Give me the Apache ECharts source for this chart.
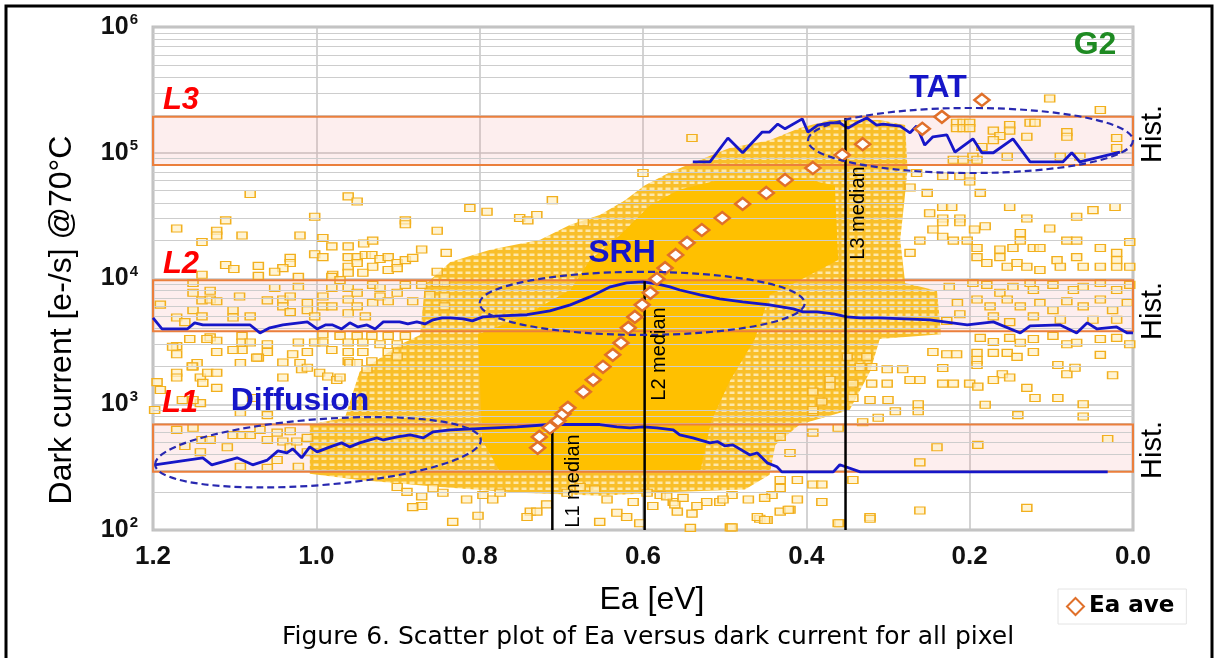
<!DOCTYPE html>
<html>
<head>
<meta charset="utf-8">
<script src="https://cdn.jsdelivr.net/npm/echarts@6.0.0/dist/echarts.min.js"></script>
<style>
  html, body { margin: 0; padding: 0; background: #fff; }
  #chart { width: 1215px; height: 658px; }
</style>
</head>
<body>
<div id="chart"></div>
<script>
// ---- data (Ea in eV, dark current in e-/s) ----
const minorSteps = [2, 3, 4, 5, 6, 7, 8, 9]
const decades = [1e2, 1e3, 1e4, 1e5]

const bandNames = ['L1', 'L2', 'L3']
const bandLow = [290, 3800, 80000]
const bandHigh = [690, 9700, 193000]

const eaAveX = [0.729, 0.727, 0.714, 0.704, 0.698, 0.692, 0.673, 0.661, 0.649, 0.637, 0.627, 0.618, 0.610, 0.601, 0.591,
  0.583, 0.573, 0.560, 0.546, 0.528, 0.503, 0.478, 0.449, 0.426, 0.392, 0.356, 0.331, 0.258, 0.234, 0.185]
const eaAveY = [450, 550, 650, 738, 839, 936, 1255, 1563, 1984, 2470, 3076, 4050, 4950, 6170, 7690,
  9930, 12100, 15400, 19200, 24300, 30300, 39200, 47900, 60800, 75700, 96000, 117000, 155000, 193000, 263000]

const histL1 = [[1.198, 330], [1.139, 375], [1.128, 330], [1.097, 375], [1.078, 330], [1.060, 360], [1.047, 426], [1.036, 410],
  [1.029, 442], [1.018, 375], [1.008, 458], [0.999, 418], [0.983, 458], [0.969, 493], [0.959, 458], [0.947, 493], [0.926, 540],
  [0.918, 520], [0.901, 551], [0.885, 570], [0.869, 540], [0.857, 604], [0.836, 625], [0.754, 661], [0.714, 690], [0.653, 690],
  [0.632, 661], [0.616, 650], [0.600, 661], [0.583, 650], [0.563, 625], [0.555, 570], [0.539, 540], [0.518, 493], [0.509, 505],
  [0.500, 467], [0.490, 475], [0.469, 395], [0.460, 410], [0.448, 342], [0.436, 318], [0.430, 290], [0.367, 290], [0.359, 330],
  [0.334, 290], [0.031, 290]]

const histL2 = [[1.200, 4860], [1.189, 3970], [1.158, 3970], [1.149, 4440], [1.139, 4270], [1.081, 4270], [1.069, 3690],
  [1.057, 4050], [1.041, 4270], [1.011, 4520], [0.999, 3970], [0.989, 4270], [0.980, 4270], [0.969, 3970], [0.959, 4440],
  [0.949, 4120], [0.938, 4270], [0.928, 3970], [0.918, 4520], [0.898, 4520], [0.888, 4350], [0.877, 4520], [0.867, 4350],
  [0.857, 4690], [0.846, 4860], [0.836, 4860], [0.820, 4780], [0.809, 4600], [0.796, 4950], [0.775, 5050], [0.742, 5150],
  [0.714, 5520], [0.689, 6170], [0.665, 7140], [0.640, 8580], [0.620, 9230], [0.600, 9400], [0.583, 9060], [0.567, 8580],
  [0.555, 8100], [0.530, 7400], [0.506, 6880], [0.478, 6520], [0.445, 6170], [0.416, 5730], [0.404, 5420], [0.387, 5420],
  [0.367, 5230], [0.350, 4950], [0.334, 4860], [0.310, 4860], [0.249, 4690], [0.203, 4270], [0.171, 4520], [0.138, 3690],
  [0.126, 4200], [0.089, 4270], [0.069, 3690], [0.056, 4440], [0.044, 3970], [0.020, 4120], [0.007, 3690], [0.000, 3690]]

const histL3 = [[0.539, 84500], [0.518, 84500], [0.496, 131000], [0.478, 100000], [0.454, 146000], [0.445, 146000],
  [0.435, 169000], [0.426, 155000], [0.405, 186000], [0.398, 146000], [0.386, 166000], [0.371, 173000], [0.359, 173000],
  [0.349, 157000], [0.338, 173000], [0.326, 189000], [0.314, 166000], [0.306, 169000], [0.285, 163000], [0.273, 144000],
  [0.265, 163000], [0.255, 115000], [0.245, 134000], [0.228, 139000], [0.218, 101000], [0.196, 129000], [0.185, 100000],
  [0.171, 100000], [0.147, 129000], [0.126, 84500], [0.086, 84500], [0.075, 100000], [0.065, 84500], [0.016, 101000]]

const medianNames = ['L1 median', 'L2 median', 'L3 median']
const medianEa = [0.711, 0.598, 0.352]
const medianTop = [670, 9500, 189000]

// ellipses: [Ea left, Ea right, current low, current high]
const ellipseNames = ['Diffusion', 'SRH', 'TAT']
const ellipseBox = [[1.198, 0.798, 227, 759], [0.800, 0.402, 3560, 11300], [0.398, 0.0, 69000, 227000]]

// outline of the region where the pixel squares merge
const denseOutline = [[1.008, 280], [1.008, 690], [0.965, 780], [0.947, 1810], [0.898, 2970], [0.873, 3560], [0.867, 8900],
  [0.836, 13550], [0.787, 16900], [0.726, 20300], [0.689, 26700], [0.653, 32000], [0.622, 42000], [0.598, 55000],
  [0.567, 70000], [0.530, 88000], [0.494, 109000], [0.445, 126000], [0.408, 157000], [0.371, 182000], [0.310, 182000],
  [0.279, 166000], [0.276, 73000], [0.285, 20300], [0.279, 9200], [0.240, 8000], [0.235, 3600], [0.310, 3300],
  [0.322, 1810], [0.347, 900], [0.408, 690], [0.438, 475], [0.445, 275], [0.475, 210], [0.555, 201], [0.653, 187],
  [0.751, 198], [0.849, 220], [0.947, 250]]
// outline of the saturated core
const coreOutline = [[0.775, 290], [0.797, 520], [0.802, 3600], [0.751, 4860], [0.689, 8100], [0.665, 14000],
  [0.628, 22200], [0.591, 38500], [0.555, 51000], [0.506, 61000], [0.408, 63000], [0.365, 55000], [0.361, 14000],
  [0.408, 9700], [0.445, 7400], [0.463, 3300], [0.493, 1560], [0.516, 750], [0.530, 290]]

// individual pixels outside the merged region
const pixUpperLeft = [[1.081, 4.7e4], [0.961, 4.5e4], [0.950, 4.1e4], [1.111, 2.9e4], [1.002, 3.1e4], [0.891, 2.9e4],
  [0.891, 2.7e4], [1.171, 2.5e4], [1.122, 2.4e4], [1.122, 2.2e4], [1.091, 2.2e4], [1.020, 2.2e4], [0.852, 2.4e4],
  [1.140, 1.95e4], [0.992, 2.1e4], [0.981, 1.8e4], [0.961, 1.8e4], [0.942, 1.9e4], [0.931, 2.0e4], [0.871, 1.7e4],
  [0.841, 1.6e4], [1.002, 1.56e4], [0.992, 1.48e4], [1.032, 1.46e4], [1.032, 1.33e4], [1.041, 1.21e4], [1.051, 1.13e4],
  [1.071, 1.26e4], [1.071, 1.05e4], [1.111, 1.28e4], [1.101, 1.19e4], [1.140, 1.07e4], [0.961, 1.48e4], [0.950, 1.48e4],
  [0.961, 1.24e4], [0.950, 1.33e4], [0.940, 1.54e4], [0.932, 1.54e4], [0.922, 1.43e4], [0.912, 1.48e4], [0.901, 1.33e4],
  [0.891, 1.4e4], [0.882, 1.46e4], [0.931, 1.24e4], [0.912, 1.17e4], [0.901, 1.21e4], [0.980, 1.07e4], [0.961, 1.11e4],
  [0.943, 1.11e4], [0.540, 1.31e5], [0.600, 6.9e4], [0.711, 4.2e4], [0.812, 3.64e4], [0.791, 3.39e4], [0.751, 3.03e4],
  [0.741, 2.9e4], [0.730, 3.2e4], [0.673, 2.8e4]]

const pixL2Left = [[1.151, 9200], [1.151, 7700], [1.140, 6700], [1.130, 8000], [1.130, 6800], [1.122, 6600], [1.191, 6200],
  [1.151, 5600], [1.140, 5000], [1.171, 4900], [1.161, 4500], [1.094, 7200], [1.102, 5600], [1.102, 4900], [1.081, 5000],
  [1.060, 6700], [1.051, 8400], [1.041, 6800], [1.041, 6000], [1.032, 7200], [1.032, 5400], [1.022, 8600], [1.022, 10300],
  [1.011, 6400], [1.011, 5600], [1.002, 5000], [0.992, 7200], [0.992, 6000], [0.981, 6000], [0.981, 8400], [0.981, 10300],
  [0.971, 9700], [0.961, 8400], [0.961, 6800], [0.961, 5300], [0.950, 7700], [0.950, 6000], [0.940, 5000], [0.931, 8900],
  [0.931, 6400], [0.922, 8400], [0.922, 7200], [0.912, 6600], [0.901, 7700], [0.891, 8900], [0.882, 6600], [0.871, 8900],
  [0.861, 7400], [0.852, 11300], [0.852, 9200], [0.843, 9200], [0.843, 7200], [0.843, 6000]]

const pixMidLeft = [[1.130, 3400], [1.122, 3200], [1.091, 3500], [1.091, 3100], [1.091, 2700], [1.102, 2700], [1.171, 2900],
  [1.171, 2500], [1.122, 2600], [1.151, 2000], [1.081, 3100], [1.060, 2600], [1.071, 2350], [1.041, 2150], [1.029, 2500],
  [1.022, 3100], [1.011, 2600], [1.002, 3100], [0.992, 3600], [0.992, 3100], [0.981, 2700], [0.971, 3500], [0.961, 3100],
  [0.961, 2600], [0.961, 2200], [0.950, 3500], [0.943, 3100], [0.943, 2600], [0.932, 3500], [0.932, 2200], [0.922, 3000],
  [0.912, 3500], [0.912, 2600], [0.901, 3000], [0.901, 2400], [0.891, 3500], [1.176, 2870],
  [1.155, 3300], [1.146, 2130], [1.134, 3300], [1.073, 2350], [1.060, 3000], [1.018, 1900], [1.195, 1500], [1.191, 1300],
  [1.171, 1780], [1.171, 1630], [1.142, 1630], [1.139, 1480], [1.133, 1780], [1.122, 1780], [1.122, 1350], [1.198, 900],
  [1.164, 1080], [1.142, 1020], [1.078, 1120], [1.041, 1630], [0.996, 1780], [0.986, 1660], [0.975, 1560], [0.959, 2130],
  [0.950, 2130], [0.938, 1900], [1.152, 2000], [1.093, 2130], [1.020, 2130], [1.011, 1950], [0.971, 1630], [1.151, 1080],
  [1.093, 855], [1.060, 820]]

const pixL1Left = [[1.171, 625], [1.151, 650], [1.161, 465], [1.140, 520], [1.130, 520], [1.109, 455], [1.102, 570],
  [1.091, 570], [1.142, 415], [1.093, 318], [1.081, 570], [1.069, 625], [1.060, 520], [1.060, 312], [1.048, 595],
  [1.041, 505], [1.032, 610], [1.032, 455], [1.024, 505], [1.022, 318], [1.048, 360], [1.011, 540], [1.011, 415]]

const pixBottom = [[0.901, 220], [0.889, 201], [0.871, 185], [0.871, 155], [0.882, 152], [0.833, 116], [0.802, 130],
  [0.738, 140], [0.730, 140], [0.742, 127], [0.718, 160], [0.653, 116], [0.632, 137], [0.620, 127], [0.604, 113],
  [0.588, 155], [0.579, 190], [0.563, 167], [0.558, 140], [0.542, 104], [0.506, 167], [0.493, 105], [0.457, 123],
  [0.448, 120], [0.432, 140], [0.420, 145], [0.471, 175], [0.857, 215], [0.845, 198], [0.816, 175], [0.796, 190],
  [0.784, 175], [0.775, 198], [0.693, 198], [0.677, 220], [0.659, 210], [0.644, 175], [0.612, 167], [0.595, 198],
  [0.571, 185], [0.411, 250], [0.392, 230], [0.381, 230], [0.432, 250], [0.432, 216], [0.442, 190], [0.451, 180],
  [0.460, 127], [0.451, 120], [0.491, 190], [0.502, 175], [0.522, 167], [0.534, 155], [0.561, 160], [0.551, 180],
  [0.540, 135], [0.422, 145], [0.411, 175], [0.381, 167], [0.322, 127], [0.359, 113], [0.491, 105], [0.420, 410],
  [0.432, 550], [0.392, 870], [0.392, 595], [0.361, 650], [0.240, 455], [0.190, 475], [0.031, 530], [0.261, 345],
  [0.343, 250], [0.361, 113], [0.322, 123], [0.261, 143], [0.130, 150]]

const pixRightUpper = [[0.102, 2.7e5], [0.040, 2.19e5], [0.216, 1.73e5], [0.208, 1.73e5], [0.200, 1.73e5], [0.216, 1.57e5],
  [0.208, 1.57e5], [0.200, 1.57e5], [0.171, 1.5e5], [0.151, 1.66e5], [0.151, 1.5e5], [0.163, 1.36e5], [0.126, 1.73e5],
  [0.120, 1.73e5], [0.130, 1.34e5], [0.081, 1.46e5], [0.081, 1.34e5], [0.020, 1.31e5], [0.020, 1.09e5], [0.171, 1.26e5],
  [0.185, 1.11e5], [0.196, 9.3e4], [0.089, 9.3e4], [0.065, 9.3e4], [0.220, 8.8e4], [0.208, 8.8e4], [0.191, 8.8e4],
  [0.154, 9.3e4], [0.233, 6.5e4], [0.212, 6.5e4], [0.200, 6.5e4], [0.200, 5.9e4], [0.187, 4.8e4], [0.233, 3.7e4],
  [0.222, 3.7e4], [0.151, 3.7e4], [0.130, 3.0e4], [0.102, 2.5e4], [0.069, 3.1e4], [0.049, 3.5e4], [0.022, 3.7e4],
  [0.233, 3.0e4], [0.233, 2.8e4], [0.212, 3.0e4], [0.212, 2.8e4], [0.194, 2.45e4], [0.181, 2.6e4], [0.233, 2.15e4],
  [0.220, 2.0e4], [0.203, 2.0e4], [0.191, 1.75e4], [0.163, 1.7e4], [0.147, 1.75e4], [0.122, 1.75e4], [0.114, 1.75e4],
  [0.138, 2.3e4], [0.138, 2.0e4], [0.081, 2.0e4], [0.069, 2.0e4], [0.040, 1.75e4], [0.020, 1.6e4], [0.004, 1.95e4],
  [0.191, 1.48e4], [0.179, 1.33e4], [0.163, 1.48e4], [0.154, 1.24e4], [0.142, 1.33e4], [0.130, 1.24e4], [0.114, 1.17e4],
  [0.093, 1.4e4], [0.089, 1.24e4], [0.069, 1.48e4], [0.061, 1.24e4], [0.040, 1.24e4], [0.020, 1.4e4], [0.020, 1.24e4],
  [0.004, 1.24e4], [0.273, 5.3e4], [0.265, 6.9e4], [0.252, 4.8e4], [0.249, 3.3e4], [0.245, 2.45e4], [0.261, 2.0e4],
  [0.273, 1.6e4]]

const pixRightMid = [[0.196, 9200], [0.179, 8900], [0.163, 7700], [0.147, 8600], [0.126, 9200], [0.122, 8100],
  [0.098, 8900], [0.073, 8100], [0.061, 8600], [0.040, 9200], [0.020, 8100], [0.004, 8900], [0.191, 6800], [0.175, 6000],
  [0.154, 6800], [0.138, 6000], [0.114, 6400], [0.098, 5600], [0.081, 6600], [0.061, 6000], [0.040, 6800], [0.025, 5600],
  [0.007, 6400], [0.171, 5000], [0.151, 4500], [0.122, 5000], [0.089, 4700], [0.049, 4700], [0.020, 4700],
  [0.187, 3370], [0.171, 3130], [0.151, 3370], [0.138, 3080], [0.122, 3300], [0.098, 3500], [0.081, 3000], [0.069, 3080],
  [0.040, 3300], [0.020, 3370], [0.004, 3000], [0.191, 2560], [0.171, 2560], [0.154, 2560], [0.142, 2380], [0.122, 2600],
  [0.092, 2050], [0.040, 2470], [0.025, 1700], [0.191, 2250], [0.191, 2050], [0.160, 1730], [0.151, 1630], [0.171, 1560],
  [0.130, 1350], [0.120, 1120], [0.092, 1120], [0.081, 1730], [0.071, 1950], [0.061, 1000], [0.061, 800], [0.181, 990],
  [0.141, 820], [0.245, 2600], [0.233, 1940], [0.220, 1460], [0.233, 1460], [0.200, 1460], [0.190, 1380], [0.263, 1000],
  [0.263, 880], [0.291, 880], [0.312, 780], [0.331, 720], [0.300, 1080], [0.301, 1460], [0.320, 1460], [0.322, 1080],
  [0.343, 1120], [0.343, 1460], [0.371, 1560], [0.371, 1400], [0.392, 1260], [0.381, 1050], [0.392, 900], [0.273, 1560],
  [0.261, 1560], [0.301, 1900], [0.282, 1900], [0.228, 2500], [0.216, 2500], [0.334, 1980], [0.320, 1980], [0.350, 2380],
  [0.326, 2380], [0.225, 8600], [0.215, 6400], [0.228, 4600], [0.212, 5200]]

const pixels = [].concat(pixUpperLeft, pixL2Left, pixMidLeft, pixL1Left, pixBottom, pixRightUpper, pixRightMid)

// ---- chart ----
const tile = document.createElement('canvas')
tile.width = 8
tile.height = 6
const tctx = tile.getContext('2d')
tctx.fillStyle = '#F9BF2A'
tctx.fillRect(0, 0, 8, 6)
tctx.fillStyle = 'rgba(255, 238, 190, 0.85)'
tctx.fillRect(1.5, 1.5, 5, 2.5)

const chart = echarts.init(document.getElementById('chart'))

const minorValues = []
decades.forEach(d => minorSteps.forEach(m => minorValues.push(d * m)))

const blue = '#1616C8'
const font = '"Liberation Sans", Arial, sans-serif'

const histSeries = (name, data) => ({
  name,
  type: 'line',
  data,
  symbol: 'none',
  z: 6,
  silent: true,
  lineStyle: { color: blue, width: 2.8 }
})

const outlineSeries = (name, pts, fill, z) => ({
  name,
  type: 'custom',
  z,
  silent: true,
  clip: true,
  data: [pts[0]],
  renderItem: (params, api) => ({
    type: 'polygon',
    shape: { points: pts.map(p => api.coord(p)) },
    style: { fill }
  })
})

const option = {
  animation: false,
  grid: {
    left: 153, right: 82, top: 27, bottom: 128,
    show: true, borderColor: '#BEBEBE', borderWidth: 3, backgroundColor: 'transparent'
  },
  legend: {
    data: [{ name: 'Ea ave', icon: 'diamond' }],
    left: 1058, top: 589,
    itemWidth: 17, itemHeight: 17,
    padding: [6, 12, 6, 8],
    backgroundColor: '#fff',
    borderColor: '#e4e4e4', borderWidth: 1,
    textStyle: { fontSize: 23, fontWeight: 'bold', fontFamily: '"DejaVu Sans", sans-serif', color: '#000' }
  },
  xAxis: {
    type: 'value',
    inverse: true,
    min: 0, max: 1.2, interval: 0.2,
    axisLine: { show: false },
    axisTick: { show: false },
    axisLabel: {
      margin: 14,
      formatter: v => v.toFixed(1),
      fontSize: 26, fontWeight: 'bold', fontFamily: font, color: '#111'
    },
    splitLine: { show: true, lineStyle: { color: '#C4C4C4', width: 1.5 } }
  },
  yAxis: {
    type: 'log',
    logBase: 10,
    min: 100, max: 1e6,
    axisLine: { show: false },
    axisTick: { show: false },
    axisLabel: {
      margin: 15,
      formatter: v => '{b|10}{s|' + Math.round(Math.log10(v)) + '}',
      rich: {
        b: { fontSize: 25, fontWeight: 'bold', fontFamily: font, color: '#111' },
        s: { fontSize: 15, fontWeight: 'bold', fontFamily: font, color: '#111', verticalAlign: 'top', padding: [0, 0, 14, 1] }
      }
    },
    splitLine: { show: true, lineStyle: { color: '#C4C4C4', width: 1.5 } }
  },
  series: [
    {
      name: 'bands',
      type: 'custom',
      z: 1,
      silent: true,
      data: bandLow.map((lo, i) => [lo, bandHigh[i]]),
      renderItem: (params, api) => {
        const a = api.coord([1.2, api.value(1)])
        const b = api.coord([0, api.value(0)])
        return { type: 'rect', shape: { x: a[0], y: a[1], width: b[0] - a[0], height: b[1] - a[1] },
          style: { fill: 'rgba(240, 150, 150, 0.16)' } }
      },
      markLine: {
        silent: true,
        symbol: 'none',
        label: { show: false },
        lineStyle: { color: '#CDCDCD', width: 1.2, type: 'solid' },
        data: minorValues.map(v => ({ yAxis: v }))
      }
    },
    outlineSeries('dense', denseOutline, { image: tile, repeat: 'repeat' }, 3),
    outlineSeries('core', coreOutline, '#FFC000', 3.5),
    {
      name: 'pixels',
      type: 'scatter',
      z: 4,
      silent: true,
      symbol: 'rect',
      symbolSize: [10, 7],
      data: pixels,
      itemStyle: { color: 'rgba(255, 240, 195, 0.7)', borderColor: '#F2B01E', borderWidth: 1.3, opacity: 1 }
    },
    {
      name: 'band edges',
      type: 'custom',
      z: 5,
      silent: true,
      data: bandLow.map((lo, i) => [lo, bandHigh[i]]),
      renderItem: (params, api) => {
        const a = api.coord([1.2, api.value(1)])
        const b = api.coord([0, api.value(0)])
        return { type: 'rect', shape: { x: a[0], y: a[1], width: b[0] - a[0], height: b[1] - a[1] },
          style: { fill: 'none', stroke: '#EB7F3C', lineWidth: 2 } }
      }
    },
    histSeries('L1 hist', histL1),
    histSeries('L2 hist', histL2),
    histSeries('L3 hist', histL3),
    ...medianEa.map((x, i) => ({
      name: medianNames[i],
      type: 'line',
      z: 7,
      silent: true,
      symbol: 'none',
      data: [[x, 100], [x, medianTop[i]]],
      lineStyle: { color: '#000', width: 2.5 }
    })),
    {
      name: 'Ea ave',
      type: 'scatter',
      z: 8,
      symbol: 'diamond',
      symbolSize: [15, 12],
      data: eaAveX.map((x, i) => [x, eaAveY[i]]),
      itemStyle: { color: '#fff', borderColor: '#E0702A', borderWidth: 2.5, opacity: 1 }
    },
    {
      name: 'ellipses',
      type: 'custom',
      z: 9,
      silent: true,
      encode: { x: 0, y: 2 },
      data: ellipseBox,
      renderItem: (params, api) => {
        const lo = api.value(2), hi = api.value(3)
        const mid = Math.sqrt(lo * hi)
        const l = api.coord([api.value(0), mid])
        const r = api.coord([api.value(1), mid])
        const t = api.coord([api.value(0), hi])
        const b = api.coord([api.value(0), lo])
        const tilt = ellipseNames[params.dataIndex] === 'Diffusion' ? 0.077 : 0
        return {
          type: 'ellipse',
          x: (l[0] + r[0]) / 2, y: (t[1] + b[1]) / 2,
          rotation: tilt,
          shape: { cx: 0, cy: 0, rx: (r[0] - l[0]) / 2, ry: (b[1] - t[1]) / 2 },
          style: { fill: 'none', stroke: '#2828B0', lineWidth: 2.2, lineDash: [7, 4] }
        }
      }
    }
  ],
  graphic: [
    { type: 'polyline', z: 100, silent: true, shape: { points: [[6, 660], [6, 6], [1212, 6], [1212, 660]] },
      style: { stroke: '#000', lineWidth: 3, fill: 'none' } },
    ...[['L3', 181, 100], ['L2', 181, 264], ['L1', 180, 403]].map(([t, x, y]) => ({
      type: 'text', z: 100, x, y, silent: true,
      style: { text: t, fill: '#FF0000', font: 'italic bold 31px ' + font, align: 'center', verticalAlign: 'middle',
        textAlign: 'center', textVerticalAlign: 'middle' }
    })),
    ...[['Diffusion', 300, 401], ['SRH', 622, 253], ['TAT', 938, 88]].map(([t, x, y]) => ({
      type: 'text', z: 100, x, y, silent: true,
      style: { text: t, fill: blue, font: 'bold 32px ' + font, align: 'center', verticalAlign: 'middle',
        textAlign: 'center', textVerticalAlign: 'middle' }
    })),
    { type: 'text', z: 100, x: 1095, y: 45, silent: true,
      style: { text: 'G2', fill: '#1E8A22', font: 'bold 32px ' + font, align: 'center', verticalAlign: 'middle',
        textAlign: 'center', textVerticalAlign: 'middle' } },
    ...[134, 311, 450].map(y => ({
      type: 'text', z: 100, x: 1153, y, rotation: Math.PI / 2, silent: true,
      style: { text: 'Hist.', fill: '#000', font: '29px ' + font, align: 'center', verticalAlign: 'middle',
        textAlign: 'center', textVerticalAlign: 'middle' }
    })),
    ...[[573, 481], [659, 354], [858, 213]].map(([x, y], i) => ({
      type: 'text', z: 100, x, y, rotation: Math.PI / 2, silent: true,
      style: { text: medianNames[i], fill: '#000', font: '20px ' + font, align: 'center', verticalAlign: 'middle',
        textAlign: 'center', textVerticalAlign: 'middle' }
    })),
    { type: 'text', z: 100, x: 62, y: 320, rotation: Math.PI / 2, silent: true,
      style: { text: 'Dark current [e-/s] @70°C', fill: '#000', font: '32px ' + font, align: 'center',
        verticalAlign: 'middle', textAlign: 'center', textVerticalAlign: 'middle' } },
    { type: 'text', z: 100, x: 652, y: 600, silent: true,
      style: { text: 'Ea [eV]', fill: '#000', font: '32px ' + font, align: 'center', verticalAlign: 'middle',
        textAlign: 'center', textVerticalAlign: 'middle' } },
    { type: 'text', z: 100, x: 648, y: 637, silent: true,
      style: { text: 'Figure 6. Scatter plot of Ea versus dark current for all pixel', fill: '#000',
        font: '25px "DejaVu Sans", sans-serif', align: 'center', verticalAlign: 'middle', textAlign: 'center',
        textVerticalAlign: 'middle' } }
  ]
}

chart.setOption(option)
</script>
</body>
</html>
